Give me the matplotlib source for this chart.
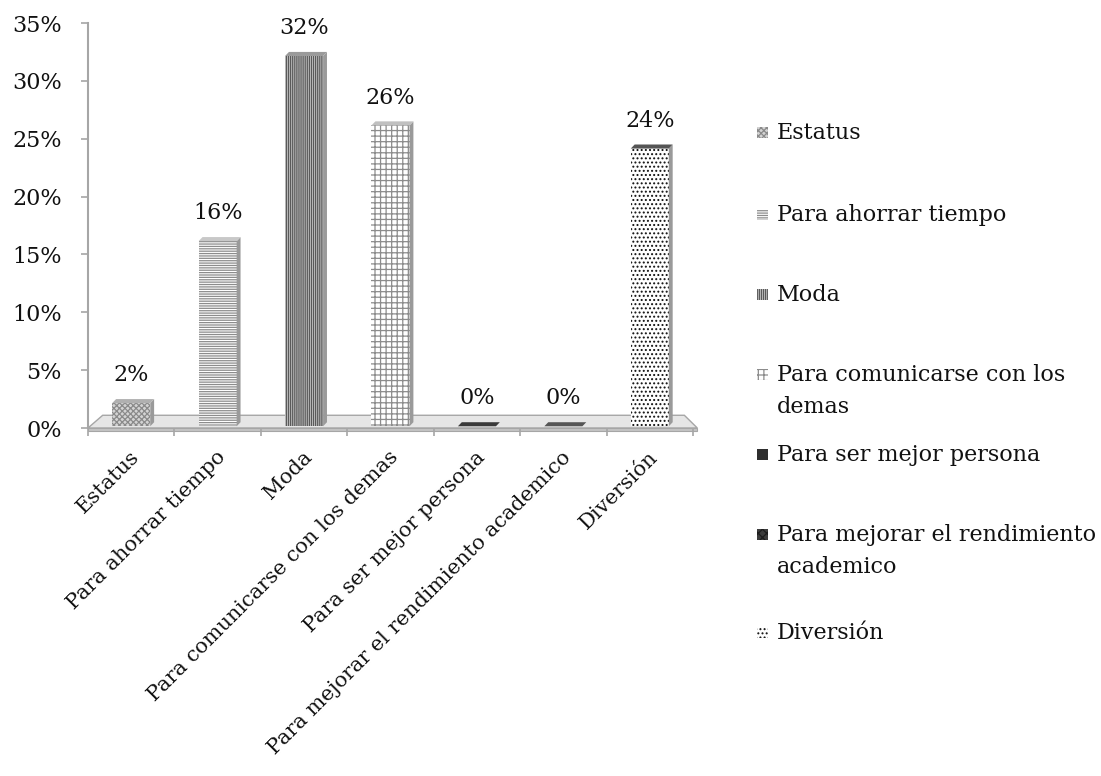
import matplotlib
matplotlib.use("Agg")
import matplotlib.pyplot as plt
from matplotlib.patches import Polygon, Rectangle
from matplotlib.transforms import ScaledTranslation

categories = ["Estatus", "Para ahorrar tiempo", "Moda", "Para comunicarse con los demas",
              "Para ser mejor persona", "Para mejorar el rendimiento academico", "Diversión"]
values = [2, 16, 32, 26, 0, 0, 24]
value_labels = ["2%", "16%", "32%", "26%", "0%", "0%", "24%"]
legend_labels = [["Estatus"], ["Para ahorrar tiempo"], ["Moda"],
                 ["Para comunicarse con los", "demas"], ["Para ser mejor persona"],
                 ["Para mejorar el rendimiento", "academico"], ["Diversión"]]
yticks = [0, 5, 10, 15, 20, 25, 30, 35]
ytick_labels = ["0%", "5%", "10%", "15%", "20%", "25%", "30%", "35%"]

# styles: (face, hatch, hatch colour, top colour)
styles = [
    ("#d4d4d4", "xxxxxx", "#8a8a8a", "#b0b0b0"),
    ("#ffffff", "-------", "#8c8c8c", "#c8c8c8"),
    ("#c8c8c8", "||||||||", "#5a5a5a", "#9a9a9a"),
    ("#ffffff", "+++", "#8c8c8c", "#c0c0c0"),
    ("#2e2e2e", "", "#2e2e2e", "#3a3a3a"),
    ("#3c3c3c", "xxxx", "#1c1c1c", "#555555"),
    ("#ffffff", "....", "#111111", "#555555"),
]

plt.rcParams["font.family"] = ["DejaVu Serif"]
plt.rcParams["hatch.linewidth"] = 0.9
FS = 16
FSX = 15

W, H = 1101, 776
fig = plt.figure(figsize=(W / 100, H / 100), dpi=100)
x0, x1 = 88, 693
y0, y1 = 428, 23
ax = fig.add_axes([x0 / W, 1 - y0 / H, (x1 - x0) / W, (y0 - y1) / H])
ax.set_xlim(-0.5, 6.5)
ax.set_ylim(0, 35)

base = 0.15      # bars stand slightly back on the floor
bw = 0.44
dx, dy = 0.045, 0.35
grey = "#a6a6a6"

# floor
ax.add_patch(Polygon([(-0.5, 0), (6.55, 0), (6.4, 1.1), (-0.33, 1.1)], closed=True,
                     facecolor="#e6e6e6", edgecolor=grey, lw=1.0, zorder=1, clip_on=False))
ax.add_patch(Polygon([(-0.5, 0), (6.55, 0), (6.55, -0.3), (-0.5, -0.3)], closed=True,
                     facecolor="#c4c4c4", edgecolor=grey, lw=0.8, zorder=1, clip_on=False))

xs = list(range(len(categories)))
for i, (x, v) in enumerate(zip(xs, values)):
    face, hatch, hc, topc = styles[i]
    ax.bar(x, v, width=bw, bottom=base, color=face, hatch=hatch, edgecolor=hc,
           linewidth=0, zorder=3)
    # side face
    ax.add_patch(Polygon([(x + bw / 2, base), (x + bw / 2 + dx, base + dy),
                          (x + bw / 2 + dx, base + v + dy), (x + bw / 2, base + v)],
                         closed=True, facecolor="#9a9a9a", edgecolor="none", zorder=3))
    # top face
    ax.add_patch(Polygon([(x - bw / 2, base + v), (x + bw / 2, base + v),
                          (x + bw / 2 + dx, base + v + dy), (x - bw / 2 + dx, base + v + dy)],
                         closed=True, facecolor=topc, edgecolor="none", zorder=3))
    ax.annotate(value_labels[i], (x, base + v), xytext=(0, 20), textcoords="offset points",
                ha="center", va="center", fontsize=FS, color="#111111")

for s in ["top", "right", "bottom"]:
    ax.spines[s].set_visible(False)
ax.spines["left"].set_color(grey)
ax.spines["left"].set_linewidth(1.5)
ax.set_yticks(yticks)
ax.set_yticklabels(ytick_labels, fontsize=FS, color="#111111")
ax.tick_params(axis="y", length=5, width=1.2, color=grey, pad=14)

ax.set_xticks(xs)
ax.set_xticklabels(categories, rotation=45, ha="right", rotation_mode="anchor",
                   fontsize=FSX, color="#111111")
ax.tick_params(axis="x", length=0, pad=14)
shift = ScaledTranslation(-2 / 100, 0, fig.dpi_scale_trans)
for lab in ax.get_xticklabels():
    lab.set_transform(lab.get_transform() + shift)
ax.set_xticks([i - 0.5 for i in range(len(categories) + 1)], minor=True)
ax.tick_params(axis="x", which="minor", length=6, width=1.2, color=grey, direction="out")

# manual legend
leg_y = [133, 215, 295, 375, 455, 535, 633]
line_gap = 32
for i, yy in enumerate(leg_y):
    face, hatch, hc, topc = styles[i]
    fig.patches.append(Rectangle((757 / W, 1 - (yy + 5) / H), 11 / W, 11 / H,
                                 transform=fig.transFigure, facecolor=face, hatch=hatch,
                                 edgecolor=hc, linewidth=0))
    for k, line in enumerate(legend_labels[i]):
        fig.text(777 / W, 1 - (yy + k * line_gap) / H, line, fontsize=FS, va="center",
                 ha="left", color="#111111")

fig.savefig("out.png", dpi=100)
